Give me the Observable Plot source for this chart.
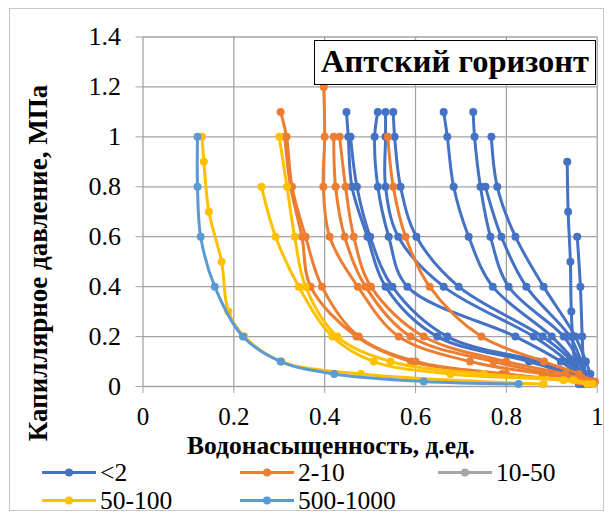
<!DOCTYPE html>
<html><head><meta charset="utf-8">
<script src="https://cdn.jsdelivr.net/npm/d3@7"></script>
<script src="https://cdn.jsdelivr.net/npm/@observablehq/plot@0.6"></script>
<style>
body{margin:0;background:#fff;}
#wrap, #wrap div, #wrap span{font-family:"Liberation Serif","DejaVu Serif",serif;}
#wrap{position:relative;width:613px;height:520px;color:#000;}
#frame{position:absolute;left:9px;top:8px;width:595px;height:503px;border:1px solid #c8c8c8;box-sizing:border-box;}
#chart{position:absolute;left:0;top:0;}
#title{position:absolute;left:314px;top:40px;width:282px;height:45px;box-sizing:border-box;border:1.6px solid #000;background:#fff;font-weight:bold;font-size:32.5px;text-align:center;line-height:41px;white-space:nowrap;}
#ytitle{position:absolute;left:38px;top:263px;transform:translate(-50%,-50%) rotate(-90deg);font-weight:bold;font-size:27px;line-height:24px;white-space:nowrap;}
#xtitle{position:absolute;left:331px;top:444.5px;transform:translate(-50%,-50%);font-weight:bold;font-size:25.5px;line-height:19px;white-space:nowrap;}
.leg{position:absolute;display:flex;align-items:center;font-size:25.5px;line-height:21px;white-space:nowrap;transform:translateY(-50%);}
.leg svg{margin-right:4px;}
</style></head><body><div id="wrap"><div id="frame"></div></div>
<script>
// ---- data ----
const groups = ["<2", "2-10", "10-50", "50-100", "500-1000"];
const colors = ["#4472C4", "#ED7D31", "#A5A5A5", "#FFC000", "#5B9BD5"];
const xTicks = [0, 0.2, 0.4, 0.6, 0.8, 1];
const yTicks = [0, 0.2, 0.4, 0.6, 0.8, 1, 1.2, 1.4];

// <2 : capillary pressure (MPa) and water saturation per curve
const lt2Pc = [
  [1.1, 1.0, 0.8, 0.6, 0.4, 0.2, 0.1, 0.05, 0.01],
  [1.0, 0.8, 0.6, 0.4, 0.2, 0.1, 0.05, 0.01],
  [1.1, 1.0, 0.8, 0.6, 0.4, 0.2, 0.1, 0.05, 0.01],
  [1.1, 1.0, 0.8, 0.6, 0.4, 0.2, 0.1, 0.05, 0.01],
  [1.1, 1.0, 0.8, 0.6, 0.4, 0.2, 0.1, 0.05, 0.01],
  [1.1, 1.0, 0.8, 0.6, 0.4, 0.2, 0.1, 0.05, 0.01],
  [1.1, 1.0, 0.8, 0.6, 0.4, 0.2, 0.1, 0.05, 0.01],
  [0.8, 0.6, 0.4, 0.2, 0.1, 0.05, 0.01],
  [1.0, 0.8, 0.6, 0.4, 0.2, 0.1, 0.05, 0.01],
  [0.9, 0.7, 0.5, 0.3, 0.1, 0.05, 0.01],
  [0.6, 0.4, 0.2, 0.1, 0.05, 0.01]
];
const lt2Sw = [
  [0.448, 0.452, 0.46, 0.494, 0.534, 0.648, 0.85, 0.93, 0.96],
  [0.457, 0.471, 0.50, 0.549, 0.67, 0.87, 0.94, 0.965],
  [0.517, 0.51, 0.517, 0.541, 0.582, 0.82, 0.92, 0.955, 0.97],
  [0.534, 0.534, 0.534, 0.562, 0.662, 0.86, 0.935, 0.96, 0.975],
  [0.551, 0.554, 0.567, 0.602, 0.695, 0.88, 0.945, 0.965, 0.975],
  [0.662, 0.67, 0.684, 0.717, 0.77, 0.90, 0.95, 0.965, 0.97],
  [0.727, 0.73, 0.743, 0.765, 0.805, 0.926, 0.96, 0.97, 0.975],
  [0.754, 0.789, 0.844, 0.94, 0.965, 0.975, 0.98],
  [0.767, 0.78, 0.82, 0.882, 0.952, 0.975, 0.985, 0.99],
  [0.934, 0.936, 0.941, 0.943, 0.95, 0.955, 0.96],
  [0.956, 0.963, 0.967, 0.97, 0.975, 0.98]
];

// 2-10
const r2to10Pc = [
  [1.1, 1.0, 0.8, 0.6, 0.4, 0.2, 0.1, 0.05, 0.02],
  [1.0, 0.8, 0.6, 0.4, 0.2, 0.1, 0.05, 0.02],
  [1.2, 1.0, 0.8, 0.6, 0.4, 0.2, 0.1, 0.05, 0.02],
  [1.0, 0.8, 0.6, 0.4, 0.2, 0.1, 0.05, 0.02],
  [1.0, 0.8, 0.6, 0.4, 0.2, 0.1, 0.05, 0.02],
  [1.0, 0.8, 0.6, 0.4, 0.2, 0.1, 0.05, 0.02]
];
const r2to10Sw = [
  [0.303, 0.316, 0.328, 0.358, 0.394, 0.475, 0.60, 0.80, 0.97],
  [0.312, 0.325, 0.35, 0.369, 0.47, 0.59, 0.79, 0.96],
  [0.398, 0.40, 0.397, 0.411, 0.473, 0.563, 0.72, 0.88, 0.98],
  [0.42, 0.424, 0.444, 0.49, 0.589, 0.772, 0.90, 0.985],
  [0.433, 0.446, 0.464, 0.502, 0.618, 0.80, 0.93, 0.99],
  [0.539, 0.551, 0.578, 0.631, 0.745, 0.883, 0.96, 0.995]
];

// 10-50 (legend entry only, no visible curve)
const r10to50Pc = [];
const r10to50Sw = [];

// 50-100
const r50to100Pc = [
  [1.0, 0.9, 0.7, 0.5, 0.3, 0.2, 0.1, 0.05, 0.01],
  [0.8, 0.6, 0.4, 0.2, 0.1, 0.05, 0.025, 0.01],
  [1.0, 0.8, 0.6, 0.4, 0.2, 0.1, 0.05, 0.025, 0.01]
];
const r50to100Sw = [
  [0.13, 0.134, 0.145, 0.173, 0.188, 0.223, 0.305, 0.48, 0.882],
  [0.261, 0.292, 0.343, 0.417, 0.508, 0.677, 0.926, 0.978],
  [0.30, 0.317, 0.334, 0.358, 0.428, 0.545, 0.75, 0.948, 0.99]
];

// 500-1000
const r500to1000Pc = [[1.0, 0.8, 0.6, 0.4, 0.2, 0.1, 0.05, 0.02, 0.01]];
const r500to1000Sw = [[0.12, 0.12, 0.127, 0.158, 0.22, 0.303, 0.421, 0.618, 0.827]];

// ---- build table ----
const sets = [
  [groups[0], lt2Pc, lt2Sw],
  [groups[1], r2to10Pc, r2to10Sw],
  [groups[2], r10to50Pc, r10to50Sw],
  [groups[3], r50to100Pc, r50to100Sw],
  [groups[4], r500to1000Pc, r500to1000Sw]
];
const marks = [
  Plot.gridX({ticks: xTicks, stroke: "#a3a3a3", strokeOpacity: 1, strokeWidth: 1.3}),
  Plot.gridY({ticks: yTicks, stroke: "#a3a3a3", strokeOpacity: 1, strokeWidth: 1.3}),
  Plot.axisX({ticks: xTicks, tickSize: 7, tickPadding: 14, fontSize: 25, stroke: "#a3a3a3", tickFormat: d => String(d), label: null}),
  Plot.axisY({ticks: yTicks, tickSize: 7, tickPadding: 15, stroke: "#a3a3a3", tickFormat: d => String(d), label: null})
];
for (const [g, pcs, sws] of sets) {
  const rows = [];
  pcs.forEach((pc, i) => pc.forEach((p, j) => rows.push({group: g, id: g + "#" + i, pc: p, sw: sws[i][j]})));
  if (!rows.length) continue;
  marks.push(Plot.line(rows, {x: "sw", y: "pc", z: "id", stroke: "group", strokeWidth: 3, curve: "catmull-rom"}));
  marks.push(Plot.dot(rows, {x: "sw", y: "pc", fill: "group", r: 4}));
}

const chart = Plot.plot({
  width: 613,
  height: 440,
  marginLeft: 142.5,
  marginRight: 16.3,
  marginTop: 36.5,
  marginBottom: 54,
  x: {domain: [0, 1]},
  y: {domain: [0, 1.4]},
  color: {domain: groups, range: colors},
  style: {fontFamily: "'Liberation Serif', 'DejaVu Serif', serif", fontSize: "26px", background: "transparent", overflow: "visible", color: "#000"},
  marks
});
chart.id = "chart";
const wrap = document.getElementById("wrap");
wrap.appendChild(chart);

// ---- titles ----
const title = document.createElement("div");
title.id = "title"; title.textContent = "Аптский горизонт";
wrap.appendChild(title);
const yt = document.createElement("div");
yt.id = "ytitle"; yt.textContent = "Капиллярное давление, МПа";
wrap.appendChild(yt);
const xt = document.createElement("div");
xt.id = "xtitle"; xt.textContent = "Водонасыщенность, д.ед.";
wrap.appendChild(xt);

// ---- legend ----
const legendPos = [[42, 472], [240, 472], [438, 472], [42, 500], [240, 500]];
groups.forEach((g, i) => {
  const d = document.createElement("div");
  d.className = "leg";
  d.style.left = legendPos[i][0] + "px";
  d.style.top = legendPos[i][1] + "px";
  d.innerHTML = `<svg width="54" height="10"><line x1="0" y1="5" x2="54" y2="5" stroke="${colors[i]}" stroke-width="2.8"/><circle cx="27" cy="5" r="4" fill="${colors[i]}"/></svg><span>${g.replace("<", "&lt;")}</span>`;
  wrap.appendChild(d);
});
</script></body></html>
